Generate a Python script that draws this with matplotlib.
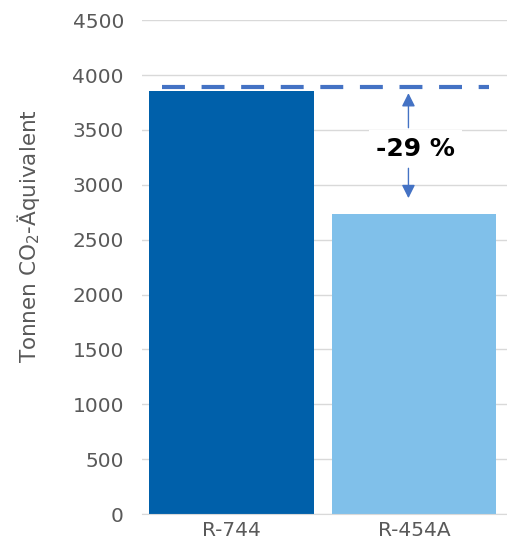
import matplotlib
matplotlib.use('Agg')
import matplotlib.pyplot as plt

categories = ['R-744', 'R-454A']
values = [3850, 2730]
bar_colors = ['#0060AA', '#80C0EA']
ref_level = 3890          # dashed reference line
label_text = '-29 %'
label_y = 3330
arrow_top = 3835
arrow_bottom = 2878

GREY = '#595959'
ARROW = '#4472C4'

fig = plt.figure(figsize=(5.07, 5.44), dpi=100)
ax = fig.add_axes([0.28, 0.055, 0.72, 0.908])

x = range(len(categories))
ax.bar(x, values, width=0.9, color=bar_colors, zorder=2)

ax.set_xlim(-0.49, 1.51)
ax.set_ylim(0, 4500)
ax.set_yticks(range(0, 4501, 500))
ax.set_xticks(list(x))
ax.set_xticklabels(categories)
ax.grid(axis='y', color='#D9D9D9', lw=1.0, zorder=0)
ax.set_axisbelow(True)
for s in ['top', 'right', 'left']:
    ax.spines[s].set_visible(False)
ax.spines['bottom'].set_color('#D9D9D9')
ax.tick_params(axis='both', length=0, labelsize=14.5, labelcolor=GREY)
ax.tick_params(axis='y', pad=13)
ax.tick_params(axis='x', pad=5)
ax.set_ylabel('Tonnen CO$_2$-Äquivalent', fontsize=15.5, color=GREY)
ax.yaxis.set_label_coords(-0.275, 0.563)

ax.plot([-0.38, 1.41], [ref_level, ref_level], color=ARROW, lw=3,
        dashes=(5.5, 4), zorder=3)

ax.text(1.01, label_y, label_text, ha='center', va='center', fontsize=18,
        fontweight='bold', color='black', zorder=5,
        bbox=dict(fc='white', ec='none', pad=5))
for tip, start in [(arrow_top, label_y + 190), (arrow_bottom, label_y - 180)]:
    ax.annotate('', xy=(0.97, tip), xytext=(0.97, start),
                arrowprops=dict(arrowstyle='-|>', color=ARROW, lw=1.0,
                                mutation_scale=20, shrinkA=0, shrinkB=0),
                zorder=6)

plt.savefig('out.png', dpi=100)
plt.close()
